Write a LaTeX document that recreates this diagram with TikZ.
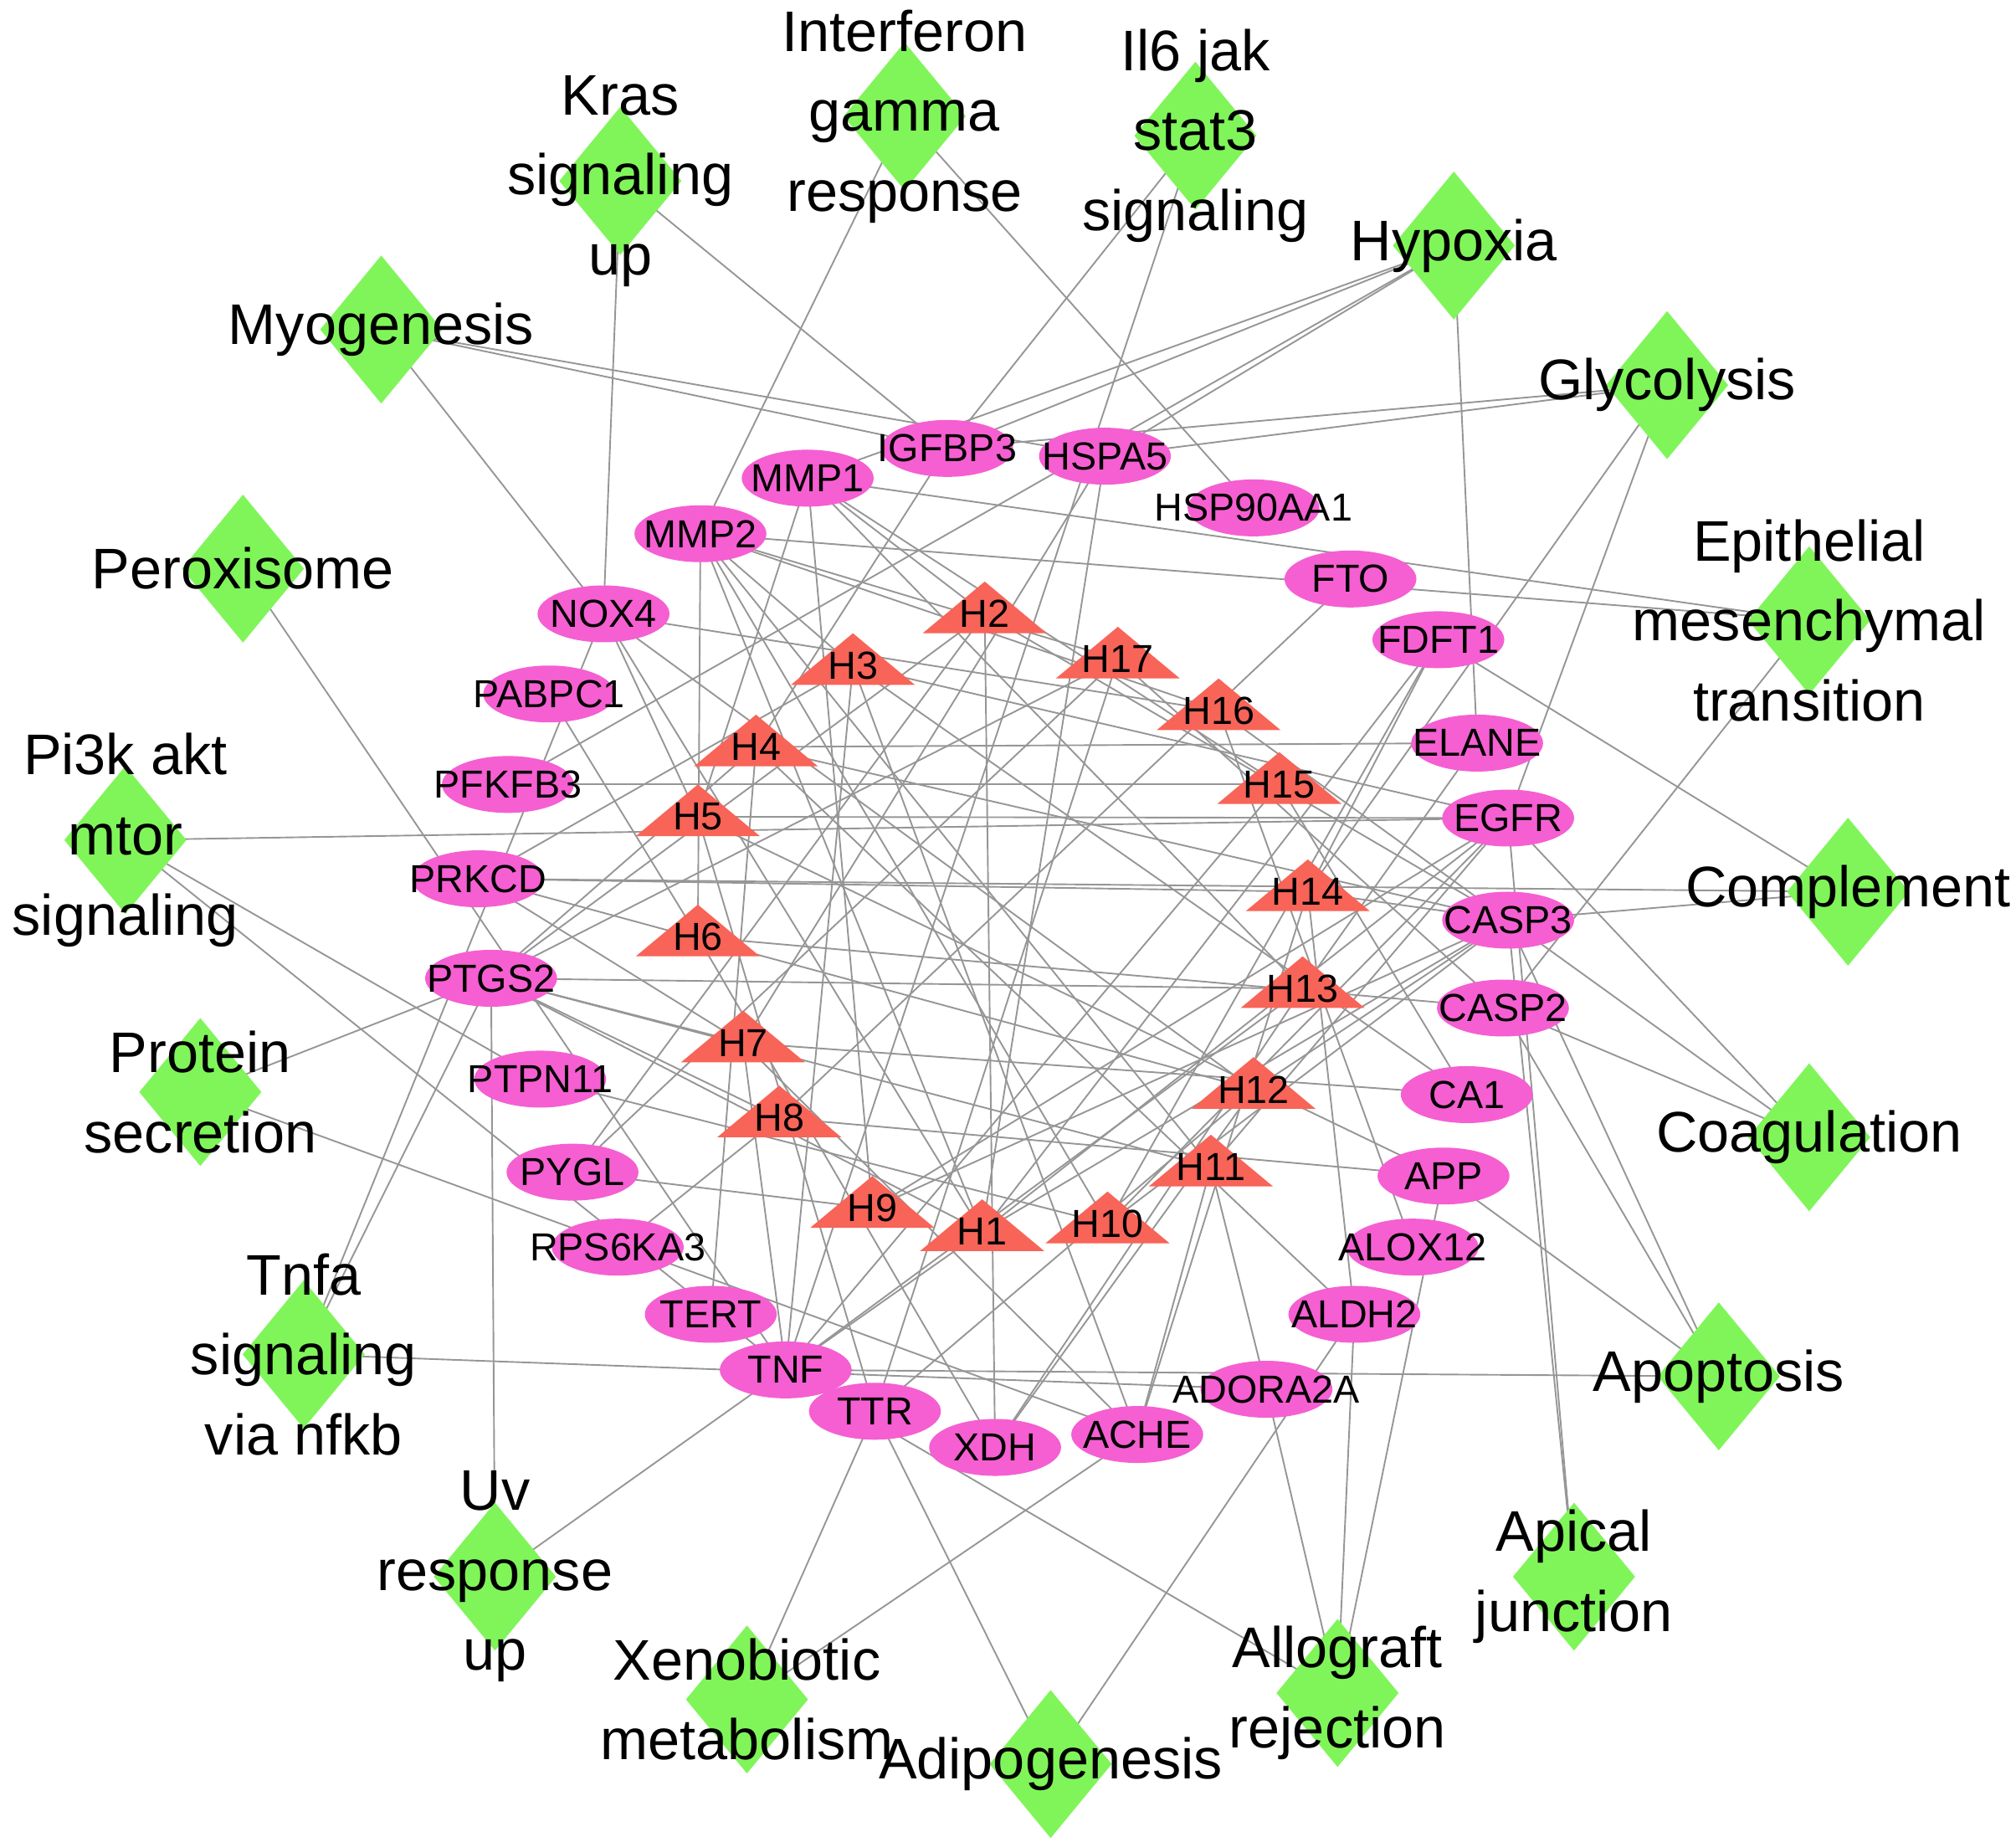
\documentclass[tikz,border=0pt]{standalone}
\usepackage{fontspec}
\setmainfont{Liberation Sans}
\usetikzlibrary{shapes.geometric,backgrounds}
\definecolor{dgreen}{RGB}{128,245,90}
\definecolor{emag}{RGB}{245,95,210}
\definecolor{tred}{RGB}{248,100,88}
\definecolor{egray}{RGB}{150,150,150}
\begin{document}
\begin{tikzpicture}[x=0.01cm,y=-0.01cm,
 dia/.style={diamond,fill=dgreen,minimum width=0.95cm,minimum height=1.15cm,inner sep=0pt},
 dlab/.style={align=center,font=\fontsize{12.6}{17.6}\selectfont},
 ell/.style={ellipse,fill=emag,minimum width=1.02cm,minimum height=0.44cm,inner sep=0pt},
 elab/.style={inner sep=0pt,font=\fontsize{8.6}{10}\selectfont},
 tlab/.style={font=\fontsize{8.6}{10}\selectfont},
 edge/.style={draw=egray,line width=0.35pt}]
\useasboundingbox (0,0) rectangle (1560,1425);
% diamonds
\foreach \n/\x/\y in {Kras/480/140,Ifn/700/90,Il6/925/105,Hyp/1125/190,Myo/295/255,Gly/1290/298,Per/188/440,Emt/1400/480,Pi3k/97/650,Comp/1430/690,Prot/155/845,Coag/1400/880,Tnfa/235/1048,Apop/1330/1065,Uv/383/1220,Api/1218/1220,Xen/578/1315,Adi/813/1365,Allo/1035/1310}
 {\node[dia] (\n) at (\x,\y) {};}
% ellipses
\foreach \n/\x/\y in {IGFBP3/733/347,HSPA5/855/353,MMP1/625/370,MMP2/542/413,HSP90AA1/970/393,FTO/1045/448,NOX4/467/475,FDFT1/1113/495,PABPC1/425/537,ELANE/1143/575,PFKFB3/393/607,EGFR/1167/633,PRKCD/370/680,CASP3/1167/712,PTGS2/380/757,CASP2/1163/780,PTPN11/418/835,CA1/1135/847,PYGL/443/907,APP/1117/910,RPS6KA3/478/965,ALOX12/1093/965,TERT/550/1017,ALDH2/1048/1017,TNF/608/1060,ADORA2A/980/1075,TTR/677/1092,ACHE/880/1110,XDH/770/1120}
 {\node[ell] (\n) at (\x,\y) {};}
\foreach \n in {IGFBP3,HSPA5,MMP1,MMP2,HSP90AA1,FTO,NOX4,FDFT1,PABPC1,ELANE,PFKFB3,EGFR,PRKCD,CASP3,PTGS2,CASP2,PTPN11,CA1,PYGL,APP,RPS6KA3,ALOX12,TERT,ALDH2,TNF,ADORA2A,TTR,ACHE,XDH}
 {\node[elab] (\n-l) at (\n) {\n};}
% triangles
\foreach \n/\x/\y in {H2/762/470,H3/660/510,H17/865/505,H16/943/545,H4/585/573,H15/990/602,H5/540/627,H14/1012/685,H6/540/720,H13/1008/760,H7/575/802,H12/970/838,H8/603/860,H11/937/898,H9/675/930,H1/760/948,H10/857/942}
 {\fill[tred] (\x-48,\y+20) -- (\x+48,\y+20) -- (\x,\y-20) -- cycle;
  \node[tlab,inner sep=0pt] (\n) at (\x,\y+5) {\n};}
% labels of diamonds
\foreach \n/\t in {Kras/{Kras\\signaling\\up},Ifn/{Interferon\\gamma\\response},Il6/{Il6 jak\\stat3\\signaling},Hyp/{Hypoxia},Myo/{Myogenesis},Gly/{Glycolysis},Per/{Peroxisome},Emt/{Epithelial\\mesenchymal\\transition},Pi3k/{Pi3k akt\\mtor\\signaling},Comp/{Complement},Prot/{Protein\\secretion},Coag/{Coagulation},Tnfa/{Tnfa\\signaling\\via nfkb},Apop/{Apoptosis},Uv/{Uv\\response\\up},Api/{Apical\\junction},Xen/{Xenobiotic\\metabolism},Adi/{Adipogenesis},Allo/{Allograft\\rejection}}
 {\node[dlab] (\n-l) at (\n) {\t};}
\begin{pgfonlayer}{background}
\foreach \a/\b in {Kras/NOX4,Kras/IGFBP3,Ifn/MMP2,Ifn/HSP90AA1,Il6/IGFBP3,Il6/TNF,
 Hyp/IGFBP3,Hyp/HSPA5,Hyp/MMP1,Hyp/ELANE,Hyp/PFKFB3,Myo/HSPA5,Myo/NOX4,Myo/IGFBP3,
 Gly/HSPA5,Gly/IGFBP3,Gly/EGFR,Gly/H14,Per/TNF,Emt/MMP2,Emt/MMP1,Emt/CASP2,
 Pi3k/EGFR,Pi3k/TNF,Pi3k/PTPN11,Comp/PRKCD,Comp/CASP3,Comp/FDFT1,Prot/PTGS2,Prot/ACHE,
 Coag/CASP3,Coag/CASP2,Coag/EGFR,Tnfa/PTGS2,Tnfa/NOX4,Tnfa/ADORA2A,
 Apop/CASP3,Apop/CASP2,Apop/APP,Apop/TNF,Uv/PTGS2,Uv/TNF,Api/CASP3,Api/EGFR,
 Xen/TTR,Xen/ACHE,Adi/TTR,Adi/ALDH2,Allo/TNF,Allo/ALDH2,Allo/APP,Allo/ADORA2A,
 H1/MMP2,H1/NOX4,H1/PTGS2,H1/EGFR,H1/CASP3,H1/TNF,H1/FDFT1,H1/HSPA5,
 H2/MMP1,H2/PTGS2,H2/CASP3,H2/XDH,H2/PYGL,
 H3/MMP2,H3/EGFR,H3/TNF,H3/PRKCD,H3/ACHE,H3/CA1,
 H4/IGFBP3,H4/CASP3,H4/TERT,H4/ALDH2,H4/PTGS2,H4/ELANE,
 H5/NOX4,H5/EGFR,H5/APP,H5/TTR,H5/MMP1,
 H6/PABPC1,H6/CASP2,H6/XDH,H6/MMP2,
 H7/PRKCD,H7/CA1,H7/HSPA5,H7/TNF,H7/ACHE,H7/PTGS2,
 H8/PTGS2,H8/APP,H8/FTO,H8/RPS6KA3,
 H9/PYGL,H9/CASP3,H9/MMP1,H9/EGFR,
 H10/EGFR,H10/MMP2,H10/PTPN11,H10/CASP3,H10/FDFT1,
 H11/MMP2,H11/PTGS2,H11/ACHE,H11/EGFR,H11/ADORA2A,
 H12/NOX4,H12/PRKCD,H12/XDH,H12/CASP3,H12/TTR,
 H13/PTGS2,H13/MMP1,H13/ELANE,H13/XDH,H13/TNF,
 H14/PRKCD,H14/FDFT1,H14/ACHE,H14/ALDH2,H14/CASP3,
 H15/PFKFB3,H15/MMP1,H15/TNF,H15/CA1,
 H16/MMP2,H16/NOX4,H16/ALOX12,H16/CASP3,
 H17/MMP2,H17/PTGS2,H17/TTR,H17/CASP2,H17/PYGL}
 {\draw[edge] (\a.center) -- (\b.center);}
\end{pgfonlayer}
\end{tikzpicture}
\end{document}
